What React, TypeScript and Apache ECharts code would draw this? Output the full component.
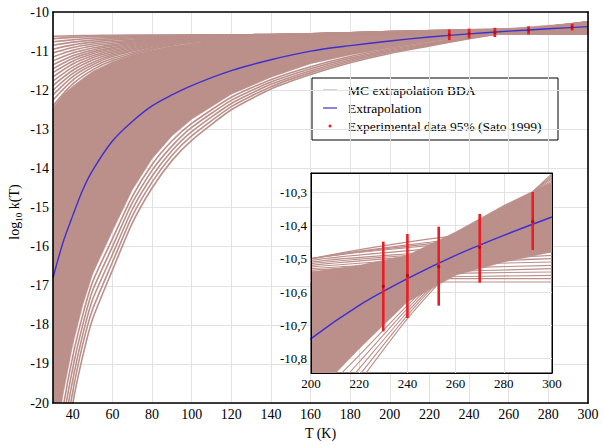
import React, { useEffect, useRef } from 'react';
import * as echarts from 'echarts';

// ---------- data ----------
const BAND_T = [30, 35, 40, 45, 50, 60, 70, 80, 90, 100, 120, 140, 160, 180, 200, 220, 240, 260, 280, 300];
// dense part of the Monte-Carlo fan (upper / lower edge)
const BAND_HI = [-12.45, -12.12, -11.9, -11.7, -11.52, -11.27, -11.1, -10.97, -10.87, -10.8, -10.68, -10.62, -10.58, -10.56, -10.54, -10.52, -10.49, -10.42, -10.34, -10.27];
const BAND_LO = [-21.5, -19.8, -18.5, -17.5, -16.7, -15.6, -14.55, -13.75, -13.17, -12.74, -12.1, -11.67, -11.32, -11.1, -10.92, -10.77, -10.63, -10.55, -10.51, -10.48];
// blue extrapolation curve
const FIT = [-16.8, -15.9, -15.2, -14.55, -14.05, -13.3, -12.8, -12.4, -12.12, -11.88, -11.5, -11.22, -11.0, -10.86, -10.74, -10.64, -10.56, -10.49, -10.43, -10.375];

// individual MC curves visible at the upper edge of the fan
const MC_T = [30, 40, 50, 60, 80, 100, 130, 160, 200, 250, 300];
const MC_UPPER = [
  [-10.62, -10.61, -10.6, -10.595, -10.59, -10.585, -10.58, -10.575, -10.57, -10.57, -10.57],
  [-10.68, -10.65, -10.63, -10.62, -10.6, -10.59, -10.58, -10.57, -10.565, -10.56, -10.56],
  [-10.76, -10.71, -10.67, -10.65, -10.62, -10.6, -10.58, -10.57, -10.56, -10.555, -10.55],
  [-10.85, -10.77, -10.72, -10.68, -10.64, -10.61, -10.585, -10.57, -10.555, -10.545, -10.54],
  [-10.95, -10.84, -10.77, -10.72, -10.66, -10.62, -10.59, -10.57, -10.55, -10.54, -10.53],
  [-11.05, -10.91, -10.82, -10.76, -10.68, -10.63, -10.59, -10.565, -10.545, -10.53, -10.52],
  [-11.15, -10.98, -10.87, -10.8, -10.7, -10.64, -10.595, -10.565, -10.54, -10.52, -10.51],
  [-11.25, -11.05, -10.92, -10.84, -10.72, -10.65, -10.6, -10.565, -10.535, -10.515, -10.5],
  [-11.35, -11.12, -10.97, -10.87, -10.74, -10.66, -10.6, -10.56, -10.53, -10.51, -10.49],
  [-11.45, -11.19, -11.02, -10.91, -10.76, -10.67, -10.605, -10.56, -10.525, -10.5, -10.48],
  [-11.55, -11.26, -11.07, -10.94, -10.78, -10.68, -10.61, -10.56, -10.52, -10.49, -10.47],
  [-11.66, -11.33, -11.12, -10.98, -10.8, -10.69, -10.61, -10.56, -10.515, -10.485, -10.46],
  [-11.77, -11.41, -11.17, -11.02, -10.82, -10.7, -10.615, -10.56, -10.51, -10.48, -10.45],
  [-11.88, -11.49, -11.23, -11.06, -10.84, -10.71, -10.62, -10.56, -10.505, -10.47, -10.44],
  [-12.0, -11.57, -11.29, -11.1, -10.87, -10.73, -10.625, -10.565, -10.5, -10.46, -10.43],
  [-12.12, -11.65, -11.35, -11.14, -10.89, -10.74, -10.63, -10.565, -10.5, -10.455, -10.42],
  [-12.25, -11.74, -11.41, -11.19, -10.92, -10.76, -10.64, -10.57, -10.5, -10.45, -10.41],
  [-12.4, -11.84, -11.48, -11.24, -10.95, -10.78, -10.65, -10.57, -10.5, -10.44, -10.4],
];
// steep MC curves along the lower edge of the fan (sampled on BAND_T)
const MC_STEEP = [
  [-23.7, -21.6, -20.0, -18.8, -17.85, -16.6, -15.4, -14.5, -13.8, -13.28, -12.5, -11.97, -11.6, -11.3, -11.06, -10.87, -10.68, -10.52, -10.38, -10.245],
  [-23.2, -21.2, -19.7, -18.5, -17.6, -16.4, -15.22, -14.35, -13.67, -13.17, -12.42, -11.91, -11.55, -11.26, -11.03, -10.85, -10.67, -10.515, -10.375, -10.25],
  [-22.8, -20.85, -19.4, -18.25, -17.35, -16.2, -15.05, -14.2, -13.55, -13.06, -12.34, -11.85, -11.5, -11.22, -11.0, -10.83, -10.66, -10.51, -10.37, -10.255],
  [-22.3, -20.5, -19.1, -18.0, -17.12, -16.0, -14.88, -14.05, -13.43, -12.95, -12.26, -11.79, -11.45, -11.18, -10.97, -10.81, -10.65, -10.505, -10.37, -10.26],
  [-21.9, -20.15, -18.8, -17.75, -16.9, -15.8, -14.72, -13.9, -13.3, -12.85, -12.18, -11.73, -11.4, -11.14, -10.94, -10.79, -10.64, -10.5, -10.37, -10.265],
];

// experimental points (Sato 1999), 95% intervals
const EXP_T = [230, 240, 253, 270, 292];
const EXP_VAL = [-10.583, -10.551, -10.524, -10.466, -10.389];
const EXP_LO = [-10.718, -10.678, -10.641, -10.572, -10.474];
const EXP_HI = [-10.449, -10.426, -10.404, -10.366, -10.3];

const LEGEND_LABELS = ['MC extrapolation BDA', 'Extrapolation', 'Experimental data 95% (Sato 1999)'];

// ---------- styles ----------
const FONT = "'Liberation Serif', 'Times New Roman', serif";
const BROWN = '#bb8f8a';
const BLUE = '#3d2fd0';
const RED = '#ec1c24';
const GRIDC = '#e2e2e2';

const pairs = (xs: number[], ys: number[]) => xs.map((x, i) => [x, ys[i]]);

function bandItem(params: any, api: any) {
  if (params.dataIndexInside !== 0) return null;
  const n = params.dataInsideLength;
  const top: number[][] = [];
  const bot: number[][] = [];
  for (let i = 0; i < n; i++) {
    const t = api.value(0, i);
    top.push(api.coord([t, api.value(2, i)]));
    bot.push(api.coord([t, api.value(1, i)]));
  }
  return {
    type: 'polygon',
    shape: { points: top.concat(bot.reverse()) },
    style: { fill: BROWN, stroke: BROWN, lineWidth: 0.5 },
  };
}

function errorBars(params: any, api: any) {
  const x = api.value(0);
  const p1 = api.coord([x, api.value(1)]);
  const p2 = api.coord([x, api.value(2)]);
  const pc = api.coord([x, api.value(3)]);
  const inset = params.seriesIndex > 30;
  return {
    type: 'group',
    children: [
      { type: 'line', shape: { x1: p1[0], y1: p1[1], x2: p2[0], y2: p2[1] }, style: { stroke: RED, lineWidth: inset ? 2.6 : 2.8 } },
      { type: 'circle', shape: { cx: pc[0], cy: pc[1], r: inset ? 1.6 : 1.4 }, style: { fill: '#a8101a' } },
    ],
  };
}

function seriesFor(g: number): any[] {
  const ax = { xAxisIndex: g, yAxisIndex: g };
  const zb = g ? 12 : 2;
  const lw = g ? 1.1 : 1.6;
  return [
    {
      type: 'custom', ...ax, renderItem: bandItem, clip: true, encode: { x: 0, y: [1, 2] },
      data: BAND_T.map((t, i) => [t, BAND_LO[i], BAND_HI[i]]), z: zb, silent: true,
    },
    ...MC_UPPER.map((ys) => ({
      type: 'line', ...ax, data: pairs(MC_T, ys), symbol: 'none', smooth: 0.3,
      lineStyle: { color: BROWN, width: lw }, z: zb + 1, silent: true,
    })),
    ...MC_STEEP.map((ys) => ({
      type: 'line', ...ax, data: pairs(BAND_T, ys), symbol: 'none', smooth: 0.2,
      lineStyle: { color: BROWN, width: lw }, z: zb + 1, silent: true,
    })),
    {
      type: 'line', ...ax, data: pairs(BAND_T, FIT), symbol: 'none', smooth: 0.3,
      lineStyle: { color: BLUE, width: 1.4 }, z: zb + 2, silent: true,
    },
    {
      type: 'custom', ...ax, renderItem: errorBars, encode: { x: 0, y: [1, 2] },
      data: EXP_T.map((t, i) => [t, EXP_LO[i], EXP_HI[i], EXP_VAL[i]]), z: zb + 3, silent: true,
    },
  ];
}

const tickText = { color: '#000', fontFamily: FONT };
const borderAxis = (grid: number, position: string, z: number, w: number) => ({
  type: 'value', gridIndex: grid, position, z,
  axisLine: { show: true, onZero: false, lineStyle: { color: '#000', width: w } },
  axisTick: { show: false }, axisLabel: { show: false }, splitLine: { show: false },
});

export default function App() {
  const ref = useRef<HTMLDivElement>(null);
  useEffect(() => {
    if (!ref.current) return;
    const chart = echarts.init(ref.current, null, { renderer: 'svg' });
    const split = { show: true, lineStyle: { color: GRIDC, width: 1 } };
    const option: any = {
      animation: false,
      backgroundColor: '#fff',
      textStyle: { fontFamily: FONT },
      grid: [
        { left: 53, top: 12, width: 535, height: 401 },
        { left: 311, top: 173, width: 241, height: 200, show: true, backgroundColor: '#fff', borderColor: '#000', borderWidth: 1, z: 10 },
      ],
      xAxis: [
        {
          type: 'value', gridIndex: 0, min: 30, max: 300, splitNumber: 14, minInterval: 20, maxInterval: 20,
          axisLine: { show: false }, axisTick: { show: false },
          axisLabel: { ...tickText, fontSize: 14, margin: 4, showMinLabel: false },
          splitLine: split,
          name: 'T (K)', nameLocation: 'middle', nameGap: 17,
          nameTextStyle: { ...tickText, fontSize: 14 },
        },
        {
          type: 'value', gridIndex: 1, min: 200, max: 300, interval: 20, z: 11,
          axisLine: { show: false }, axisTick: { show: false },
          axisLabel: { ...tickText, fontSize: 13, margin: 4 },
          splitLine: split,
        },
        borderAxis(0, 'top', 20, 1.6),
        borderAxis(0, 'bottom', 20, 1.6),
        borderAxis(1, 'top', 16, 1),
        borderAxis(1, 'bottom', 16, 1),
      ],
      yAxis: [
        {
          type: 'value', gridIndex: 0, min: -20, max: -10, interval: 1,
          axisLine: { show: false }, axisTick: { show: false },
          axisLabel: { ...tickText, fontSize: 14, margin: 4 },
          splitLine: split,
        },
        {
          type: 'value', gridIndex: 1, min: -10.843, max: -10.243, splitNumber: 6, minInterval: 0.1, maxInterval: 0.1, z: 11,
          axisLine: { show: false }, axisTick: { show: false },
          axisLabel: {
            ...tickText, fontSize: 13, margin: 4, showMinLabel: false, showMaxLabel: false,
            formatter: (v: number) => v.toFixed(1).replace('.', ','),
          },
          splitLine: split,
        },
        borderAxis(0, 'left', 20, 1.6),
        borderAxis(0, 'right', 20, 1.6),
        borderAxis(1, 'left', 16, 1),
        borderAxis(1, 'right', 16, 1),
      ],
      series: [...seriesFor(0), ...seriesFor(1)],
      graphic: [
        {
          type: 'text', x: 14, y: 212, rotation: Math.PI / 2, z: 50,
          style: {
            text: '{a|log}{b|10}{a| k(T)}', align: 'center', verticalAlign: 'middle',
            rich: {
              a: { fontFamily: FONT, fontSize: 14, fill: '#000', lineHeight: 18 },
              b: { fontFamily: FONT, fontSize: 9, fill: '#000', lineHeight: 8, verticalAlign: 'bottom' },
            },
          },
        },
        {
          type: 'group', z: 100,
          children: [
            { type: 'rect', shape: { x: 312, y: 78, width: 246, height: 62 }, style: { fill: '#fff', stroke: '#000', lineWidth: 1 } },
            { type: 'line', shape: { x1: 323, y1: 90, x2: 337, y2: 90 }, style: { stroke: '#a8a0ae', lineWidth: 1 } },
            { type: 'text', x: 348, y: 90, style: { text: LEGEND_LABELS[0], fontFamily: FONT, fontSize: 13.5, fill: '#000', verticalAlign: 'middle' } },
            { type: 'line', shape: { x1: 323, y1: 108, x2: 337, y2: 108 }, style: { stroke: BLUE, lineWidth: 1.2 } },
            { type: 'text', x: 348, y: 108, style: { text: LEGEND_LABELS[1], fontFamily: FONT, fontSize: 13.5, fill: '#000', verticalAlign: 'middle' } },
            { type: 'circle', shape: { cx: 330, cy: 126, r: 1.5 }, style: { fill: RED } },
            { type: 'text', x: 348, y: 126, style: { text: LEGEND_LABELS[2], fontFamily: FONT, fontSize: 13.5, fill: '#000', verticalAlign: 'middle' } },
          ],
        },
      ],
    };
    chart.setOption(option);
    return () => chart.dispose();
  }, []);
  return <div ref={ref} style={{ position: 'fixed', left: 0, top: 0, width: 604, height: 445 }} />;
}
